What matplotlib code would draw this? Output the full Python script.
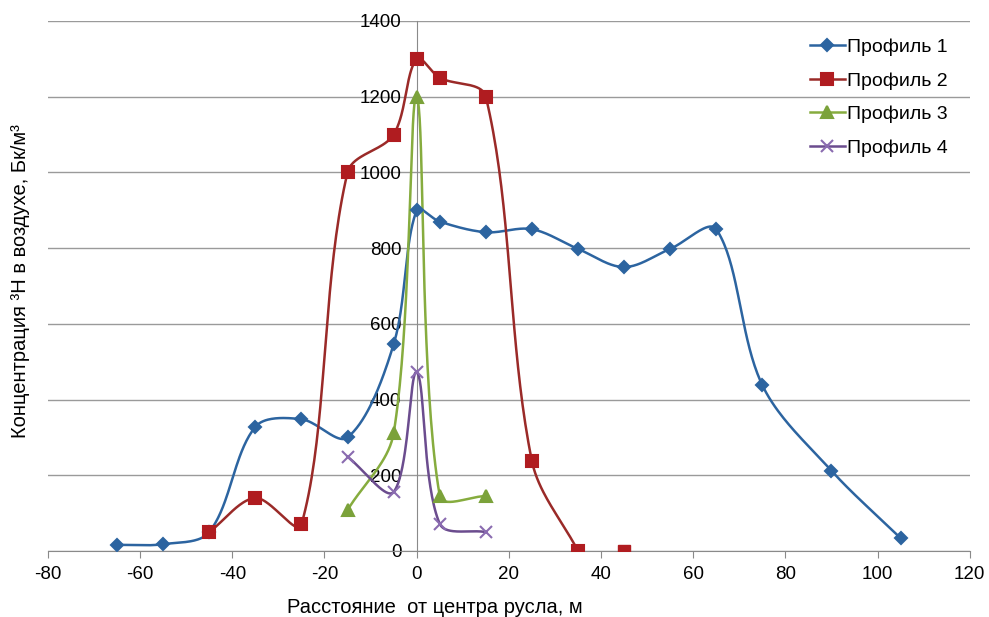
# Концентрация трития в воздухе по профилям поперек русла

import numpy as np
import matplotlib.pyplot as plt

plt.rcParams['font.family'] = ['Liberation Sans', 'DejaVu Sans']
plt.rcParams['axes.unicode_minus'] = False

# Данные
x1 = [-65, -55, -45, -35, -25, -15, -5, 0, 5, 15, 25, 35, 45, 55, 65, 75, 90, 105]
y1 = [16, 18, 50, 328, 348, 300, 546, 900, 870, 842, 850, 798, 750, 798, 850, 438, 212, 34]

x2 = [-45, -35, -25, -15, -5, 0, 5, 15, 25, 35]
y2 = [50, 140, 70, 1000, 1100, 1300, 1250, 1200, 238, 0]
x2_extra = [45]
y2_extra = [0]

x3 = [-15, -5, 0, 5, 15]
y3 = [108, 311, 1200, 146, 145]

x4 = [-15, -5, 0, 5, 15]
y4 = [249, 156, 472, 72, 50]

labels = ["Профиль 1", "Профиль 2", "Профиль 3", "Профиль 4"]


def smooth(ax, xs, ys, n=40):
    # сглаживание Безье в пиксельных координатах, примерно как в Excel
    tr = ax.transData
    p = tr.transform(np.column_stack([xs, ys]).astype(float))
    m = len(p)
    seg = np.linalg.norm(np.diff(p, axis=0), axis=1)
    pts = [p[0]]
    t = np.linspace(0, 1, n)[1:]
    for i in range(m - 1):
        L = seg[i]
        if i > 0:
            tan = p[i + 1] - p[i - 1]
            c1 = p[i] + tan * L / (seg[i - 1] + L) / 3
        else:
            c1 = p[i] + (p[i + 1] - p[i]) / 3
        if i + 2 < m:
            tan = p[i + 2] - p[i]
            c2 = p[i + 1] - tan * L / (L + seg[i + 1]) / 3
        else:
            c2 = p[i + 1] - (p[i + 1] - p[i]) / 3
        for tt in t:
            pts.append((1 - tt)**3 * p[i] + 3 * (1 - tt)**2 * tt * c1
                       + 3 * (1 - tt) * tt**2 * c2 + tt**3 * p[i + 1])
    pts = tr.inverted().transform(np.array(pts))
    return pts[:, 0], pts[:, 1]


fig = plt.figure(figsize=(9.89, 6.17), dpi=100)
ax = fig.add_axes([0.0485, 0.107, 0.932, 0.859])
ax.set_xlim(-80, 120)
ax.set_ylim(0, 1400)

series = [
    (x1, y1, '#2C64A0', '#2C64A0', 'D', 6),
    (x2, y2, '#9A2A28', '#B01C20', 's', 8),
    (x3, y3, '#86AC3E', '#7BA23A', '^', 8),
    (x4, y4, '#6B4C8E', '#8A6BB0', 'x', 8),
]
for (xs, ys, lc, mc, mk, ms), lab in zip(series, labels):
    sx, sy = smooth(ax, xs, ys)
    ax.plot(sx, sy, color=lc, lw=1.8, zorder=3)
    ax.plot(xs, ys, ls='none', marker=mk, color=mc, ms=ms, mew=1.5, zorder=4)
    ax.plot([], [], color=lc, lw=1.8, marker=mk, mfc=mc, mec=mc, ms=ms,
            mew=1.5, label=lab)

ax.plot(x2_extra, y2_extra, ls='none', marker='s', color='#B01C20', ms=8, zorder=4)

ax.set_xticks(np.arange(-80, 121, 20))
ax.set_yticks(np.arange(0, 1401, 200))

ax.grid(axis='y', color='#9a9a9a', lw=1)
ax.set_axisbelow(True)
for s in ['top', 'right']:
    ax.spines[s].set_visible(False)
ax.spines['left'].set_position(('data', 0))
ax.spines['left'].set_color('#8a8a8a')
ax.spines['bottom'].set_color('#8a8a8a')
ax.tick_params(axis='x', length=5, color='#8a8a8a', labelsize=13.5, pad=6)
ax.tick_params(axis='y', length=0, labelsize=13.5, pad=11)

ax.set_xlabel("Расстояние  от центра русла, м", fontsize=14.5)
ax.xaxis.set_label_coords(0.42, -0.088)
ax.set_ylabel("Концентрация ³H в воздухе, Бк/м³", fontsize=14.5)
ax.yaxis.set_label_coords(-0.02, 0.51)

ax.legend(loc='upper right', bbox_to_anchor=(0.995, 1.0), frameon=False,
          fontsize=14, handlelength=1.8, handletextpad=0.1, labelspacing=0.82)

plt.savefig("out.png", dpi=100)
